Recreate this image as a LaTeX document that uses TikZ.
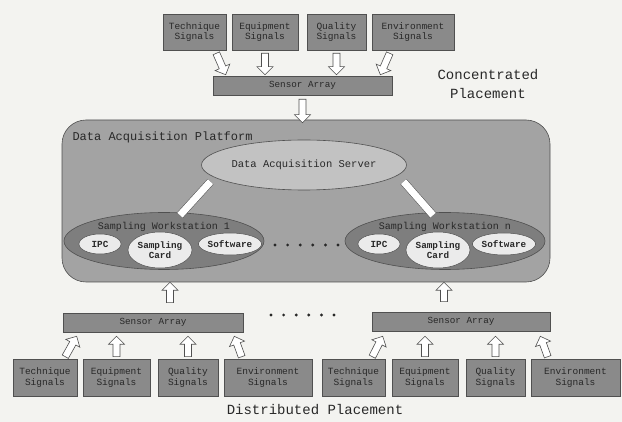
\documentclass[tikz,border=0pt]{standalone}
\usepackage{fontspec}
\setmainfont{Liberation Mono}
\usetikzlibrary{arrows.meta,positioning,calc,shapes.geometric}
\definecolor{PaperGray}{RGB}{243,243,240}
\definecolor{BoxGray}{RGB}{138,138,138}
\definecolor{EdgeGray}{RGB}{80,80,80}
\definecolor{PlatGray}{RGB}{163,163,163}
\definecolor{ServGray}{RGB}{194,194,194}
\definecolor{WsGray}{RGB}{126,126,126}
\definecolor{InkGray}{RGB}{40,40,40}

\begin{document}
\begin{tikzpicture}[x=1pt,y=-1pt,>=Latex,
  sig/.style={draw=EdgeGray,fill=BoxGray,line width=0.6pt,text=InkGray,align=center,
    inner sep=0pt,minimum height=36pt,font=\fontsize{9.5}{10.5}\selectfont},
  sarr/.style={draw=EdgeGray,fill=BoxGray,line width=0.6pt,text=InkGray,
    inner sep=0pt,minimum height=19pt,font=\fontsize{9.3}{10}\selectfont},
  plat/.style={draw=EdgeGray,fill=PlatGray,line width=0.6pt,rounded corners=24pt,
    minimum width=488pt,minimum height=162pt},
  serv/.style={ellipse,draw=EdgeGray,fill=ServGray,line width=0.6pt,inner sep=0pt,
    minimum width=202pt,minimum height=50pt,text=InkGray,font=\fontsize{10.5}{12}\selectfont},
  ws/.style={ellipse,draw=EdgeGray,fill=WsGray,line width=0.6pt,inner sep=0pt,
    minimum width=200pt,minimum height=57pt},
  wstitle/.style={text=InkGray,font=\fontsize{10}{11}\selectfont},
  part/.style={ellipse,draw=EdgeGray,fill=white!92!black,line width=0.5pt,inner sep=0pt,
    align=center,text=InkGray,font=\bfseries\fontsize{9.3}{10}\selectfont},
  bar/.style={draw=EdgeGray,line width=0.5pt,double=white,double distance=7pt},
  blockarrow/.style={draw=EdgeGray,fill=white,line width=0.6pt,
    to path={let \p1=(\tikztostart), \p2=(\tikztotarget),
      \p3=($(\p2)!8pt!(\p1)$) in
      ($(\p1)!3.5pt!90:(\p2)$) -- ($(\p3)!3.5pt!90:(\p2)$) -- ($(\p3)!8pt!90:(\p2)$)
      -- (\p2) -- ($(\p3)!8pt!-90:(\p2)$) -- ($(\p3)!3.5pt!-90:(\p2)$)
      -- ($(\p1)!3.5pt!-90:(\p2)$) -- cycle}}
]
  \useasboundingbox (0,0) rectangle (622,422);
  \fill[PaperGray] (0,0) rectangle (622,422);

  % concentrated placement
  \node[sig,minimum width=63pt] (tTech) at (194.5,32) {Technique\\Signals};
  \node[sig,minimum width=66pt] (tEqu) at (265,32) {Equipment\\Signals};
  \node[sig,minimum width=59pt] (tQua) at (336.5,32) {Quality\\Signals};
  \node[sig,minimum width=82pt] (tEnv) at (413,32) {Environment\\Signals};
  \node[sarr,minimum width=179pt] (sTop) at (302.5,85.5) {Sensor Array};
  \draw[blockarrow] ([xshift=-10pt,yshift=-3pt]tTech.south east) to ([xshift=13pt,yshift=1pt]sTop.north west);
  \draw[blockarrow] ([yshift=-3pt]tEqu.south) to ([yshift=1pt]tEqu.south |- sTop.north);
  \draw[blockarrow] ([yshift=-3pt]tQua.south) to ([yshift=1pt]tQua.south |- sTop.north);
  \draw[blockarrow] ([xshift=18pt,yshift=-3pt]tEnv.south west) to ([xshift=-12pt,yshift=1pt]sTop.north east);
  \node[align=center,text=InkGray,font=\fontsize{14}{19}\selectfont] (conc) at (488,84) {Concentrated\\Placement};

  % platform
  \node[plat] (plat) at (306,201) {};
  \node[anchor=west,text=InkGray,font=\fontsize{12}{13}\selectfont] (platLbl) at (69,137) {Data Acquisition Platform};
  \draw[blockarrow] ([yshift=-4pt]sTop.south) to ([yshift=-3pt]sTop.south |- plat.north);
  \node[serv] (srv) at (304,165) {Data Acquisition Server};

  \node[ws] (ws1) at (164,241) {};
  \node[wstitle] (ws1t) at (164,227) {Sampling Workstation 1};
  \node[part,minimum width=42pt,minimum height=20pt] (ipc1) at (100,244) {IPC};
  \node[part,minimum width=64pt,minimum height=36pt] (card1) at (160,250) {Sampling\\Card};
  \node[part,minimum width=62pt,minimum height=22pt] (soft1) at (230,244) {Software};

  \node[ws] (wsn) at (445,241) {};
  \node[wstitle] (wsnt) at (445,227) {Sampling Workstation n};
  \node[part,minimum width=42pt,minimum height=20pt] (ipcn) at (379,244) {IPC};
  \node[part,minimum width=64pt,minimum height=36pt] (cardn) at (438,250) {Sampling\\Card};
  \node[part,minimum width=62pt,minimum height=22pt] (softn) at (504,244) {Software};

  \draw[bar] ([xshift=16pt,yshift=-3pt]ws1.north) -- ([xshift=-10pt,yshift=-2pt]srv.190);
  \draw[bar] ([xshift=-12pt,yshift=-3pt]wsn.north) -- ([xshift=16pt,yshift=-2pt]srv.350);
  \foreach \i in {0,...,5}
    \fill[InkGray] (275+12.6*\i,245) circle (1.6pt);

  % distributed placement
  \node[sarr,minimum width=180pt] (sL) at (153,322.5) {Sensor Array};
  \node[sarr,minimum width=178pt] (sR) at (461,321.5) {Sensor Array};
  \draw[blockarrow] ([xshift=17pt,yshift=10pt]sL.north) to ([xshift=17pt]sL.north |- plat.south);
  \draw[blockarrow] ([xshift=-17pt,yshift=10pt]sR.north) to ([xshift=-17pt]sR.north |- plat.south);
  \foreach \i in {0,...,5}
    \fill[InkGray] (271+12.6*\i,315) circle (1.6pt);

  \node[sig,minimum width=64pt,minimum height=37pt] (bTechL) at (45,377.5) {Technique\\Signals};
  \node[sig,minimum width=67pt,minimum height=37pt] (bEquL) at (116.5,377.5) {Equipment\\Signals};
  \node[sig,minimum width=60pt,minimum height=37pt] (bQuaL) at (188,377.5) {Quality\\Signals};
  \node[sig,minimum width=88pt,minimum height=37pt] (bEnvL) at (268,377.5) {Environment\\Signals};
  \draw[blockarrow] ([xshift=-12pt,yshift=2pt]bTechL.north east) to ([xshift=14pt,yshift=-4pt]sL.south west);
  \draw[blockarrow] ([yshift=2pt]bEquL.north) to ([yshift=-4pt]bEquL.north |- sL.south);
  \draw[blockarrow] ([yshift=2pt]bQuaL.north) to ([yshift=-4pt]bQuaL.north |- sL.south);
  \draw[blockarrow] ([xshift=18pt,yshift=2pt]bEnvL.north west) to ([xshift=-9pt,yshift=-4pt]sL.south east);

  \node[sig,minimum width=63pt,minimum height=37pt] (bTechR) at (353.5,377.5) {Technique\\Signals};
  \node[sig,minimum width=66pt,minimum height=37pt] (bEquR) at (425,377.5) {Equipment\\Signals};
  \node[sig,minimum width=59pt,minimum height=37pt] (bQuaR) at (495.5,377.5) {Quality\\Signals};
  \node[sig,minimum width=89pt,minimum height=37pt] (bEnvR) at (575.5,377.5) {Environment\\Signals};
  \draw[blockarrow] ([xshift=-13pt,yshift=2pt]bTechR.north east) to ([xshift=11pt,yshift=-5pt]sR.south west);
  \draw[blockarrow] ([yshift=2pt]bEquR.north) to ([yshift=-5pt]bEquR.north |- sR.south);
  \draw[blockarrow] ([yshift=2pt]bQuaR.north) to ([yshift=-5pt]bQuaR.north |- sR.south);
  \draw[blockarrow] ([xshift=17pt,yshift=2pt]bEnvR.north west) to ([xshift=-10pt,yshift=-5pt]sR.south east);

  \node[text=InkGray,font=\fontsize{14}{16}\selectfont] (dist) at (315,410) {Distributed Placement};
\end{tikzpicture}
\end{document}
